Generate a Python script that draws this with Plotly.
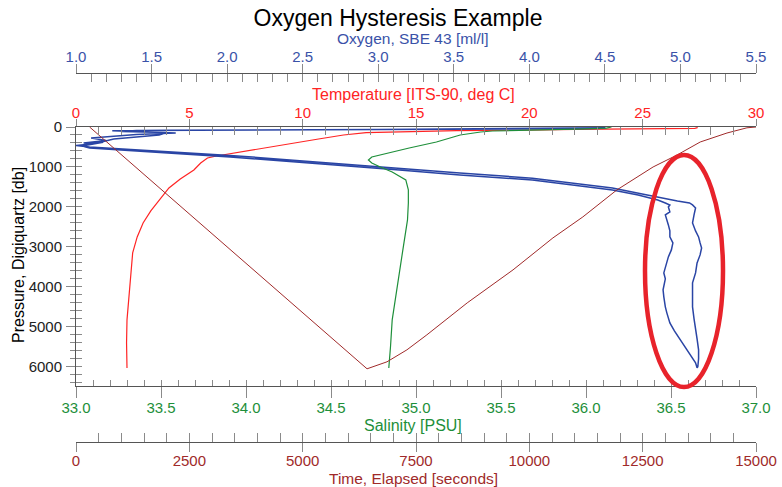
import plotly.graph_objects as go

# ---------------- data ----------------
# Temperature profile [deg C] vs pressure [db]
temp_p = [0, 20, 32, 40, 50, 60, 75, 85, 92, 142, 200, 300, 400, 550, 650, 725, 775,
          900, 1075, 1300, 1525, 1825, 2100, 2400, 2750, 3150, 3750, 4300, 4825, 5400, 6030]
temp_v = [27.4, 27.4, 27.3, 24.5, 23.4, 22.0, 20.5, 18.0, 16.8, 12.8, 11.8, 10.7, 9.6, 8.1, 7.0,
          6.2, 5.8, 5.5, 5.2, 4.6, 4.1, 3.7, 3.3, 2.96, 2.7, 2.5, 2.4, 2.32, 2.25, 2.23, 2.25]

# Salinity profile [PSU] vs pressure [db]
sal_p = [0, 30, 45, 60, 75, 100, 125, 200, 250, 375, 525, 650, 750, 825, 900, 1000, 1125,
         1325, 1575, 1900, 2325, 3150, 4000, 4825, 5500, 6030]
sal_v = [36.15, 36.12, 36.0, 35.8, 35.6, 35.45, 35.38, 35.26, 35.22, 35.12, 34.96, 34.84,
         34.74, 34.72, 34.74, 34.79, 34.86, 34.94, 34.955, 34.955, 34.95, 34.92, 34.89,
         34.86, 34.85, 34.84]

# Elapsed time [s] vs pressure [db] (down cast then up cast)
time_t = [300, 2000, 4000, 5100, 5600, 6420, 6860, 7300, 7740, 8100, 8630, 9640, 10520,
          11180, 11930, 12730, 13260, 13770, 14360, 14800, 15000]
time_p = [0, 1680, 3660, 4750, 5250, 6050, 5875, 5575, 5200, 4875, 4400, 3575, 2775,
          2250, 1575, 1000, 700, 375, 150, 20, 0]

# Oxygen [ml/l] vs pressure [db]: down cast followed by up cast (hysteresis loop)
oxy_p = [5, 30, 45, 55, 65, 80, 95, 150, 190, 275, 340, 400, 380, 475, 525, 750, 1075,
         1200, 1325, 1575, 1700, 1825, 1900, 1950, 2000, 2125, 2200, 2300, 2450, 2600,
         2750, 2900, 3075, 3250, 3400, 3550, 3650, 3800, 3950, 4075, 4250, 4400, 4500,
         4650, 4800, 4900, 5100, 5325, 5550, 5750, 5900, 6025,
         6000, 5800, 5575, 5300, 5075, 4800, 4500, 4200, 3900, 3650, 3400, 3200, 3025,
         2900, 2750, 2600, 2400, 2200, 2025, 1950, 1900, 1850, 1780, 1700, 1525, 1280,
         1150, 1030, 710, 500, 460, 420, 300, 200, 140, 110, 85, 60, 40, 20, 5]
oxy_v = [4.50, 4.50, 4.20, 3.20, 2.30, 1.60, 1.24, 1.66, 1.40, 1.10, 1.20, 1.05, 1.18,
         1.04, 1.09, 2.02, 3.14, 3.54, 4.02, 4.55, 4.72, 4.85, 4.90, 4.93, 4.92, 4.93,
         4.90, 4.91, 4.92, 4.93, 4.93, 4.95, 4.94, 4.92, 4.91, 4.90, 4.89, 4.90, 4.89,
         4.885, 4.89, 4.895, 4.90, 4.91, 4.92, 4.93, 4.96, 5.00, 5.04, 5.07, 5.10, 5.11,
         5.115, 5.12, 5.12, 5.11, 5.10, 5.09, 5.08, 5.08, 5.08, 5.10, 5.11, 5.13, 5.14,
         5.13, 5.12, 5.10, 5.08, 5.09, 5.10, 5.08, 5.06, 4.98, 4.88, 4.78, 4.55, 4.02,
         3.54, 3.14, 2.02, 1.09, 1.00, 1.12, 1.25, 1.55, 1.60, 1.30, 1.40, 3.00, 4.00,
         4.50, 4.50]

# axis ranges / tick steps
temp_range, temp_major, temp_minor = [0, 30], 5, 1
oxy_range, oxy_major, oxy_minor = [1.0, 5.5], 0.5, 0.1
sal_range, sal_major, sal_minor = [33, 37], 0.5, 0.1
time_range, time_major, time_minor = [0, 15000], 2500, 500
p_range, p_major, p_minor = [6480, 0], 1000, 200

# ---------------- styling ----------------
FONT = "Liberation Sans, Arial, sans-serif"
C_OXY = "#3a52a8"
C_OXY_LINE = "#2a45a5"
C_TEMP = "#ff2424"
C_SAL = "#1e8f3a"
C_TIME = "#a02a2a"
AX_LINE = "#555555"
TICK_C = "#8a8a8a"

W, H = 782, 487
ML, MR = 76, 26
TOP_AX_PX, BOT_AX_PX = 73, 442          # oxygen axis line, time axis line
PLOT_TOP_PX, PLOT_BOT_PX = 127, 386
MT, MB = TOP_AX_PX, H - BOT_AX_PX
ph = BOT_AX_PX - TOP_AX_PX
pw = W - ML - MR


def py(px):  # pixel row -> paper y
    return (BOT_AX_PX - px) / ph


def pxx(px):  # pixel column -> paper x
    return (px - ML) / pw


y_dom = [py(PLOT_BOT_PX), py(PLOT_TOP_PX)]

fig = go.Figure()
fig.add_trace(go.Scatter(x=temp_v, y=temp_p, xaxis="x", yaxis="y", mode="lines",
                         line=dict(color=C_TEMP, width=1.2), name="Temperature"))
fig.add_trace(go.Scatter(x=sal_v, y=sal_p, xaxis="x3", yaxis="y", mode="lines",
                         line=dict(color=C_SAL, width=1.2), name="Salinity"))
fig.add_trace(go.Scatter(x=time_t, y=time_p, xaxis="x4", yaxis="y", mode="lines",
                         line=dict(color=C_TIME, width=1.0), name="Time"))
fig.add_trace(go.Scatter(x=oxy_v, y=oxy_p, xaxis="x2", yaxis="y", mode="lines",
                         line=dict(color=C_OXY_LINE, width=1.5), name="Oxygen"))
# empty traces so the tick-only twin axes are drawn
for ax in ["x5", "x6", "x7", "x8"]:
    fig.add_trace(go.Scatter(x=[], y=[], xaxis=ax, yaxis="y", mode="lines",
                             showlegend=False, hoverinfo="skip"))
fig.add_trace(go.Scatter(x=[], y=[], xaxis="x", yaxis="y2", mode="lines",
                         showlegend=False, hoverinfo="skip"))


def xa(color, rng, dtick, minor, side, fmt, standoff, ticklen, mlen, **kw):
    d = dict(range=rng, dtick=dtick, tick0=rng[0], side=side, tickformat=fmt,
             showgrid=False, zeroline=False, showline=True, linecolor=AX_LINE, linewidth=1,
             ticks="inside", ticklen=ticklen, tickcolor=TICK_C, tickwidth=1,
             minor=dict(dtick=minor, ticks="inside", ticklen=mlen, tickcolor=TICK_C, tickwidth=1),
             tickfont=dict(family=FONT, size=15, color=color),
             ticklabelstandoff=standoff, domain=[0, 1])
    d.update(kw)
    return d


def twin(rng, dtick, side, ticklen, **kw):
    d = dict(range=rng, dtick=dtick, tick0=rng[0], side=side, showticklabels=False,
             showgrid=False, zeroline=False, showline=False,
             ticks="outside", ticklen=ticklen, tickcolor=TICK_C, tickwidth=1,
             overlaying="x", domain=[0, 1])
    d.update(kw)
    return d


fig.update_layout(
    width=W, height=H,
    margin=dict(l=ML, r=MR, t=MT, b=MB, autoexpand=False),
    paper_bgcolor="white", plot_bgcolor="white",
    showlegend=False,
    title=dict(text="Oxygen Hysteresis Example", x=398 / W, xref="container", xanchor="center",
               y=1 - 18 / H, yref="container", yanchor="middle",
               font=dict(family=FONT, size=23, color="black")),
    xaxis=xa(C_TEMP, temp_range, temp_major, temp_minor, "top", "d", 2, 8, 8, anchor="y"),
    xaxis2=xa(C_OXY, oxy_range, oxy_major, oxy_minor, "top", ".1f", 5, 8, 8,
              anchor="free", position=1, overlaying="x"),
    xaxis3=xa(C_SAL, sal_range, sal_major, sal_minor, "bottom", ".1f", 8, 6, 6,
              anchor="y", overlaying="x"),
    xaxis4=xa(C_TIME, time_range, time_major, time_minor, "bottom", "d", 5, 9, 9,
              anchor="free", position=0, overlaying="x"),
    xaxis5=twin(temp_range, temp_major, "top", 7, anchor="y"),
    xaxis6=twin(oxy_range, oxy_major, "top", 9, anchor="free", position=1),
    xaxis7=twin(sal_range, sal_major, "bottom", 11, anchor="y"),
    xaxis8=twin(time_range, time_major, "bottom", 9, anchor="free", position=0),
    yaxis=dict(range=p_range, domain=y_dom, dtick=p_major, tick0=0,
               showgrid=False, zeroline=False, showline=True, linecolor=AX_LINE,
               ticks="outside", ticklen=9, tickcolor=TICK_C,
               minor=dict(dtick=p_minor, ticks="outside", ticklen=5, tickcolor=TICK_C),
               tickfont=dict(family=FONT, size=15, color="#222222"),
               ticklabelstandoff=1),
    yaxis2=dict(range=p_range, domain=y_dom, dtick=p_major, tick0=0, overlaying="y",
                side="left", anchor="x", showticklabels=False, showgrid=False,
                zeroline=False, showline=False, ticks="inside", ticklen=6, tickcolor=TICK_C,
                minor=dict(dtick=p_minor, ticks="inside", ticklen=6, tickcolor=TICK_C)),
)

# axis titles
cx = pxx((ML + W - MR) / 2 - 3)
for text, color, ypx, size in [("Oxygen, SBE 43 [ml/l]", C_OXY, 38.5, 15.5),
                               ("Temperature [ITS-90, deg C]", C_TEMP, 94, 16),
                               ("Salinity [PSU]", C_SAL, 425, 16),
                               ("Time, Elapsed [seconds]", C_TIME, 478.5, 15.5)]:
    fig.add_annotation(text=text, x=cx, y=py(ypx), xref="paper", yref="paper",
                       xanchor="center", yanchor="middle", showarrow=False,
                       font=dict(family=FONT, size=size, color=color))

fig.add_annotation(text="Pressure, Digiquartz [db]", x=pxx(18), y=py(255),
                   xref="paper", yref="paper", textangle=-90,
                   xanchor="center", yanchor="middle", showarrow=False,
                   font=dict(family=FONT, size=16, color="black"))

# highlight ellipse around the hysteresis loop
fig.add_shape(type="circle", xref="paper", yref="paper",
              x0=pxx(645), x1=pxx(723), y0=py(387), y1=py(155),
              line=dict(color="#e8232b", width=4.5), layer="above")

fig.write_html("out.html")
